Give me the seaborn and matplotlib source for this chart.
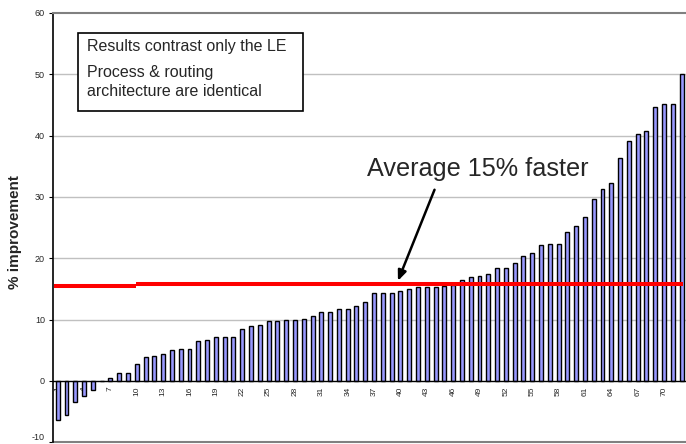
import numpy as np
import matplotlib
matplotlib.use("Agg")
import matplotlib.pyplot as plt
from matplotlib.patches import Rectangle
import seaborn as sns
import pandas as pd

# ==========================================
# Data
# ==========================================

circuit_ids = list(range(1, 73))

improvement = [
    -6.4, -5.6, -3.4, -2.4, -1.4, 0.0, 0.5, 1.3, 1.3, 2.7,
    3.9, 4.1, 4.4, 5.0, 5.2, 5.2, 6.5, 6.7, 7.2, 7.2,
    7.2, 8.4, 9.0, 9.2, 9.7, 9.7, 9.9, 9.9, 10.1, 10.6,
    11.2, 11.3, 11.8, 11.8, 12.3, 12.8, 14.3, 14.4, 14.4, 14.7,
    15.0, 15.3, 15.4, 15.4, 15.5, 15.6, 16.4, 17.0, 17.1, 17.4,
    18.5, 18.5, 19.3, 20.3, 20.9, 22.1, 22.4, 22.4, 24.3, 25.3,
    26.8, 29.6, 31.3, 32.3, 36.4, 39.2, 40.2, 40.7, 44.6, 45.2,
    45.2, 50.1,
]

# average line is drawn in two pieces in the original
avg_left = 15.55
avg_right = 15.85
avg_split = 9.95

x_labels = list(range(1, 73, 3))
y_ticks = [-10, 0, 10, 20, 30, 40, 50, 60]

note_lines = [
    "Results contrast only the LE",
    "Process & routing",
    "architecture are identical",
]
avg_text = "Average 15% faster"
y_title = "% improvement"

df = pd.DataFrame({"circuit": circuit_ids, "improvement": improvement})

# ==========================================
# Style
# ==========================================

BAR_BLUE = "#9999FF"
GRID_GRAY = "#C0C0C0"
FRAME_GRAY = "#808080"

sns.set_style("white")
plt.rcParams["font.family"] = ["Liberation Sans", "DejaVu Sans"]

fig = plt.figure(figsize=(6.86, 4.44), dpi=100)
ax = fig.add_axes([53.3 / 686, 1.7 / 444, (686 - 53.3) / 686, (442.3 - 13) / 444])

# ==========================================
# Bars
# ==========================================

sns.barplot(
    data=df,
    x="circuit",
    y="improvement",
    native_scale=True,
    width=0.45,
    color=BAR_BLUE,
    saturation=1,
    edgecolor="black",
    linewidth=1.0,
    ax=ax,
    zorder=3,
)

ax.set_xlim(0.616, 72.2)
ax.set_ylim(-10, 60)

# gridlines
for yv in y_ticks[2:-1]:
    ax.axhline(yv, color=GRID_GRAY, lw=1, zorder=1)
ax.axhline(-10, color=FRAME_GRAY, lw=1.5, zorder=1, clip_on=False)

# average line
ax.plot([0.616, avg_split], [avg_left, avg_left], color="red", lw=2.9, zorder=4,
        solid_capstyle="butt")
ax.plot([avg_split, 72.2], [avg_right, avg_right], color="red", lw=2.9, zorder=4,
        solid_capstyle="butt")

# ==========================================
# Axes
# ==========================================

ax.spines["bottom"].set_position(("data", 0))
ax.spines["bottom"].set_color("black")
ax.spines["bottom"].set_linewidth(1)
ax.spines["bottom"].set_zorder(5)
ax.spines["left"].set_color("black")
ax.spines["left"].set_linewidth(1.2)
ax.spines["top"].set_color(FRAME_GRAY)
ax.spines["top"].set_linewidth(1.5)
ax.spines["right"].set_visible(False)

ax.set_xticks(x_labels)
ax.set_xticklabels([str(v) for v in x_labels], rotation=90, fontsize=6)
ax.set_xticks(np.arange(0.5, 73, 1), minor=True)
ax.tick_params(axis="x", which="major", length=0, pad=4)
ax.tick_params(axis="x", which="minor", length=3, width=0.8, color="black", direction="out")

ax.set_yticks(y_ticks)
ax.set_yticklabels([str(v) for v in y_ticks], fontsize=6.5)
ax.tick_params(axis="y", length=3, width=0.8, color="black", pad=3, left=True)
# bottom label sits on the lower edge, lift it slightly so it stays visible
ax.get_yticklabels()[0].set_verticalalignment("bottom")

ax.set_xlabel("")
ax.set_ylabel("")
fig.text(15 / 686, 1 - 232 / 444, y_title, rotation=90, fontsize=11,
         fontweight="bold", ha="center", va="center")

# ==========================================
# Annotations
# ==========================================

ax.text(36.2, 33.4, avg_text, fontsize=18.2, va="baseline", ha="left", zorder=6)
ax.annotate(
    "",
    xy=(39.6, 15.9),
    xytext=(44.0, 31.6),
    arrowprops=dict(arrowstyle="-|>,head_length=0.6,head_width=0.25",
                    color="black", lw=1.8),
    zorder=6,
)

box = Rectangle((78 / 686, 1 - 111 / 444), (303 - 78) / 686, (111 - 33) / 444,
                transform=fig.transFigure, facecolor="white", edgecolor="black",
                lw=1.2, zorder=10)
fig.patches.append(box)

for line, top in zip(note_lines, [39, 65, 84]):
    fig.text(87 / 686, 1 - top / 444, line, fontsize=11.5, ha="left", va="top",
             zorder=11)

plt.savefig("out.png", dpi=100)
plt.close()
